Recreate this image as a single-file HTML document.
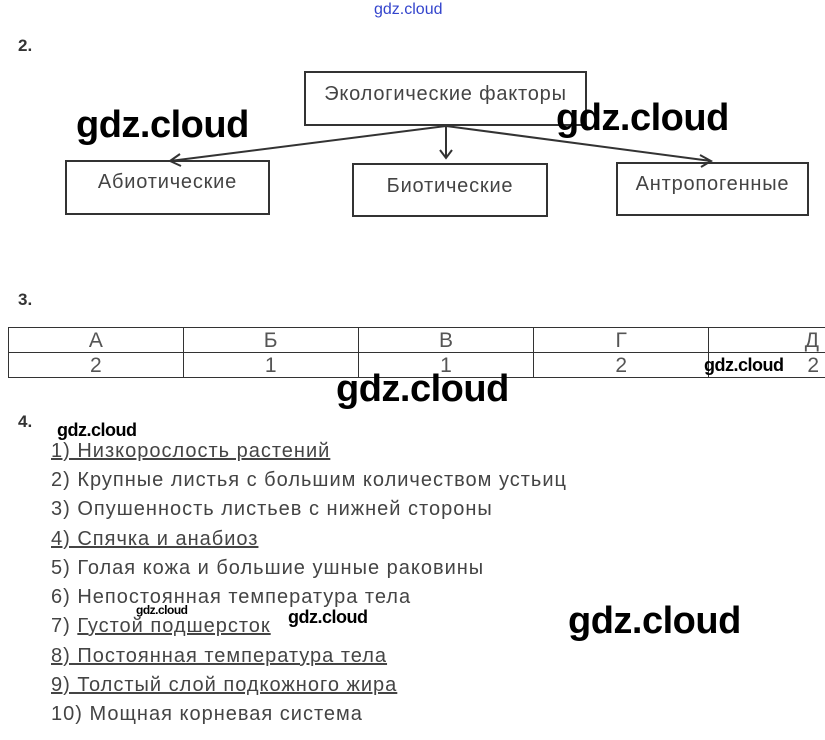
<!DOCTYPE html>
<html><head><meta charset="utf-8"><style>
body{margin:0;width:825px;height:740px;background:#fff;position:relative;overflow:hidden;font-family:"Liberation Sans",sans-serif;}
.a{position:absolute;white-space:nowrap}
.wm{font-family:"Liberation Sans",sans-serif;font-weight:bold;color:#000;letter-spacing:-0.5px}
.box{position:absolute;border:2px solid #333;box-sizing:border-box;color:#444;font-size:20px;letter-spacing:0.8px;text-align:center}
.n{font-weight:bold;font-size:17px;color:#333}
.li{position:absolute;left:51px;font-size:20px;letter-spacing:1px;color:#444;white-space:nowrap}
.u{text-decoration:underline}
table{position:absolute;left:8px;top:327px;border-collapse:collapse;font-size:21px;color:#555}
td{border:1px solid #333;height:24px;text-align:center;padding:0;line-height:23px}
</style></head><body>
<div class="a" style="left:374px;top:1px;font-size:16px;color:#3344cc">gdz.cloud</div>
<div class="a n" style="left:18px;top:36px">2.</div>
<div class="box" style="left:304px;top:71px;width:283px;height:55px;padding-top:10px">Экологические факторы</div>
<div class="box" style="left:65px;top:160px;width:205px;height:55px;padding-top:9px">Абиотические</div>
<div class="box" style="left:352px;top:163px;width:196px;height:54px;padding-top:10px">Биотические</div>
<div class="box" style="left:616px;top:162px;width:193px;height:54px;padding-top:9px">Антропогенные</div>
<svg class="a" style="left:0;top:0" width="825" height="230"><g stroke="#333" stroke-width="2" fill="none">
<path d="M446 126 L170 161 M180 154 L170 161 L181 166"/>
<path d="M446 126 L446 158 M440 150 L446 158 L452 150"/>
<path d="M446 126 L711 161 M700 155 L711 161 L701 167"/>
</g></svg>
<div class="a wm" style="left:76px;top:104px;font-size:38px">gdz.cloud</div>
<div class="a wm" style="left:556px;top:97px;font-size:38px">gdz.cloud</div>
<div class="a n" style="left:18px;top:290px">3.</div>
<table><tr><td style="width:174px">А</td><td style="width:174px">Б</td><td style="width:175px">В</td><td style="width:174px">Г</td><td style="width:110px;text-align:right;padding-right:6px;border-right:none">Д</td></tr>
<tr><td>2</td><td>1</td><td>1</td><td>2</td><td style="text-align:right;padding-right:6px;border-right:none">2</td></tr></table>
<div class="a wm" style="left:704px;top:355px;font-size:18px">gdz.cloud</div>
<div class="a wm" style="left:336px;top:368px;font-size:38px">gdz.cloud</div>
<div class="a n" style="left:18px;top:412px">4.</div>
<div class="a wm" style="left:57px;top:420px;font-size:18px">gdz.cloud</div>
<div class="li u" style="top:440px">1) Низкорослость растений</div>
<div class="li" style="top:469px">2) Крупные листья с большим количеством устьиц</div>
<div class="li" style="top:498px">3) Опушенность листьев с нижней стороны</div>
<div class="li u" style="top:528px">4) Спячка и анабиоз</div>
<div class="li" style="top:557px">5) Голая кожа и большие ушные раковины</div>
<div class="li" style="top:586px">6) Непостоянная температура тела</div>
<div class="li" style="top:615px">7) <span class="u">Густой подшерсток</span></div>
<div class="li u" style="top:645px">8) Постоянная температура тела</div>
<div class="li u" style="top:674px">9) Толстый слой подкожного жира</div>
<div class="li" style="top:703px">10) Мощная корневая система</div>
<div class="a wm" style="left:136px;top:603px;font-size:12px">gdz.cloud</div>
<div class="a wm" style="left:288px;top:607px;font-size:18px">gdz.cloud</div>
<div class="a wm" style="left:568px;top:600px;font-size:38px">gdz.cloud</div>
</body></html>
